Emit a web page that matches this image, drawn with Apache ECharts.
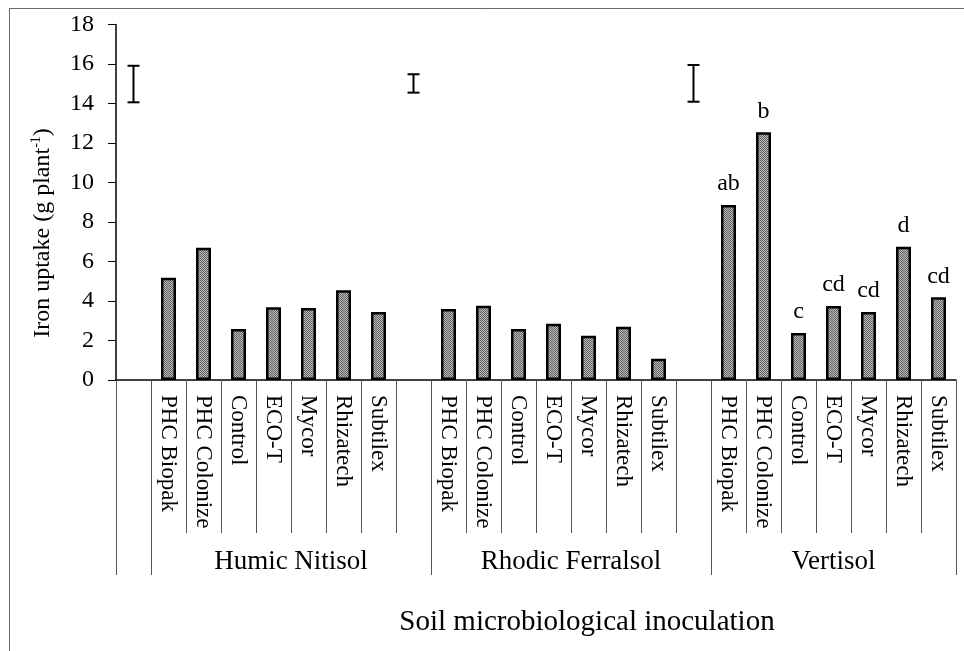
<!DOCTYPE html>
<html>
<head>
<meta charset="utf-8">
<script src="https://cdn.jsdelivr.net/npm/echarts@6/dist/echarts.min.js"></script>
<style>html,body{margin:0;padding:0;background:#fff;}#c{width:964px;height:651px;}</style>
</head>
<body>
<div id="c"></div>
<script>
// ---- data ----
const treatments = ['PHC Biopak','PHC Colonize','Control','ECO-T','Mycor','Rhizatech','Subtilex'];
const soils = ['Humic Nitisol','Rhodic Ferralsol','Vertisol'];
const humicNitisol = [5.18, 6.70, 2.58, 3.68, 3.65, 4.54, 3.44];
const rhodicFerralsol = [3.59, 3.76, 2.58, 2.85, 2.24, 2.70, 1.08];
const vertisol = [8.86, 12.54, 2.38, 3.75, 3.44, 6.75, 4.19];
const vertisolLetters = ['ab','b','c','cd','cd','d','cd'];
const errLow = [14.06, 14.55, 14.09];
const errHigh = [15.91, 15.48, 15.95];
const yMin = 0, yMax = 18, yStep = 2;
const yTitle = 'Iron uptake (g plant';
const ySup = '-1';
const xTitle = 'Soil microbiological inoculation';

// ---- build category layout: blank, 7 treatments, blank, 7, blank, 7 ----
const soilValues = [humicNitisol, rhodicFerralsol, vertisol];
const cats = [];
const barData = [];
const errData = [];
const groupStart = [];
soils.forEach((s, si) => {
  errData.push([cats.length, errLow[si], errHigh[si]]);
  cats.push('');
  barData.push('-');
  groupStart.push(cats.length);
  treatments.forEach((t, ti) => {
    cats.push(t);
    const v = soilValues[si][ti];
    if (si === 2) {
      barData.push({value: v, label: {show: true, formatter: vertisolLetters[ti]}});
    } else {
      barData.push(v);
    }
  });
});
const nSlots = cats.length;
const groupTicks = [0].concat(groupStart, [nSlots]);
const groupCenters = soils.map((s, i) => {
  const a = groupStart[i], b = (i < soils.length - 1) ? groupStart[i + 1] : nSlots;
  return (a + b) / 2;
});

// pattern fill
const pc = document.createElement('canvas');
pc.width = 2; pc.height = 2;
const px = pc.getContext('2d');
px.fillStyle = '#bcbcbc'; px.fillRect(0,0,2,2);
px.fillStyle = '#606060'; px.fillRect(0,0,1,1); px.fillRect(1,1,1,1);

const FONT = 'Liberation Serif, Times New Roman, serif';
const chart = echarts.init(document.getElementById('c'));
chart.setOption({
  backgroundColor: '#fff',
  animation: false,
  grid: {left: 116, right: 8, top: 24.5, bottom: 271, containLabel: false},
  xAxis: [{
    type: 'category',
    data: cats,
    position: 'bottom',
    boundaryGap: true,
    axisLine: {show: true, lineStyle: {color: '#000', width: 1.5}},
    axisTick: {show: true, length: 153, interval: 0, lineStyle: {color: '#555', width: 1}},
    axisLabel: {interval: 0, rotate: -90, margin: 15, fontFamily: FONT, fontSize: 23, color: '#000'},
    splitLine: {show: false}
  }, {
    type: 'value',
    min: 0, max: nSlots,
    position: 'bottom',
    axisLine: {show: false},
    axisTick: {show: true, length: 195, customValues: groupTicks, lineStyle: {color: '#555', width: 1}},
    axisLabel: {show: true, customValues: groupCenters, margin: 168, fontFamily: FONT, fontSize: 27, color: '#000',
      formatter: function (v) { const i = groupCenters.indexOf(v); return i >= 0 ? soils[i] : ''; }},
    splitLine: {show: false}
  }],
  yAxis: {
    type: 'value', min: yMin, max: yMax, interval: yStep,
    axisLine: {show: true, lineStyle: {color: '#000', width: 1.5}},
    axisTick: {show: true, length: 8, lineStyle: {color: '#000'}},
    axisLabel: {margin: 22, fontFamily: FONT, fontSize: 24, color: '#000'},
    splitLine: {show: false}
  },
  series: [{
    type: 'bar',
    xAxisIndex: 0,
    data: barData,
    barWidth: 15,
    itemStyle: {color: {image: pc, repeat: 'repeat'}, borderColor: '#000', borderWidth: 2.5},
    label: {show: false, position: 'top', distance: 9, fontFamily: FONT, fontSize: 24, color: '#000'}
  }, {
    type: 'custom',
    xAxisIndex: 0,
    data: errData,
    renderItem: function (params, api) {
      const x = api.coord([api.value(0), 0])[0];
      const lo = api.coord([api.value(0), api.value(1)])[1];
      const hi = api.coord([api.value(0), api.value(2)])[1];
      const w = 6;
      const st = {stroke: '#000', lineWidth: 2};
      return {type: 'group', children: [
        {type: 'line', shape: {x1: x, y1: lo, x2: x, y2: hi}, style: st},
        {type: 'line', shape: {x1: x - w, y1: lo, x2: x + w, y2: lo}, style: st},
        {type: 'line', shape: {x1: x - w, y1: hi, x2: x + w, y2: hi}, style: st}
      ]};
    }
  }],
  graphic: [
    {type: 'line', shape: {x1: 9.5, y1: 8.5, x2: 964, y2: 8.5}, style: {stroke: '#666', lineWidth: 1}},
    {type: 'line', shape: {x1: 9.5, y1: 8.5, x2: 9.5, y2: 651}, style: {stroke: '#666', lineWidth: 1}},
    {type: 'text', x: 42, y: 233, rotation: Math.PI / 2,
      style: {text: '{m|' + yTitle + '}{s|' + ySup + '}{m|)}', align: 'center', verticalAlign: 'middle',
        rich: {m: {fontFamily: FONT, fontSize: 24, color: '#000', lineHeight: 26, verticalAlign: 'bottom'},
               s: {fontFamily: FONT, fontSize: 14, color: '#000', lineHeight: 26, verticalAlign: 'top'}}}},
    {type: 'text', x: 587, y: 622,
      style: {text: xTitle, fontFamily: FONT, fontSize: 29, fill: '#000', align: 'center', verticalAlign: 'middle'}}
  ]
});
</script>
</body>
</html>
